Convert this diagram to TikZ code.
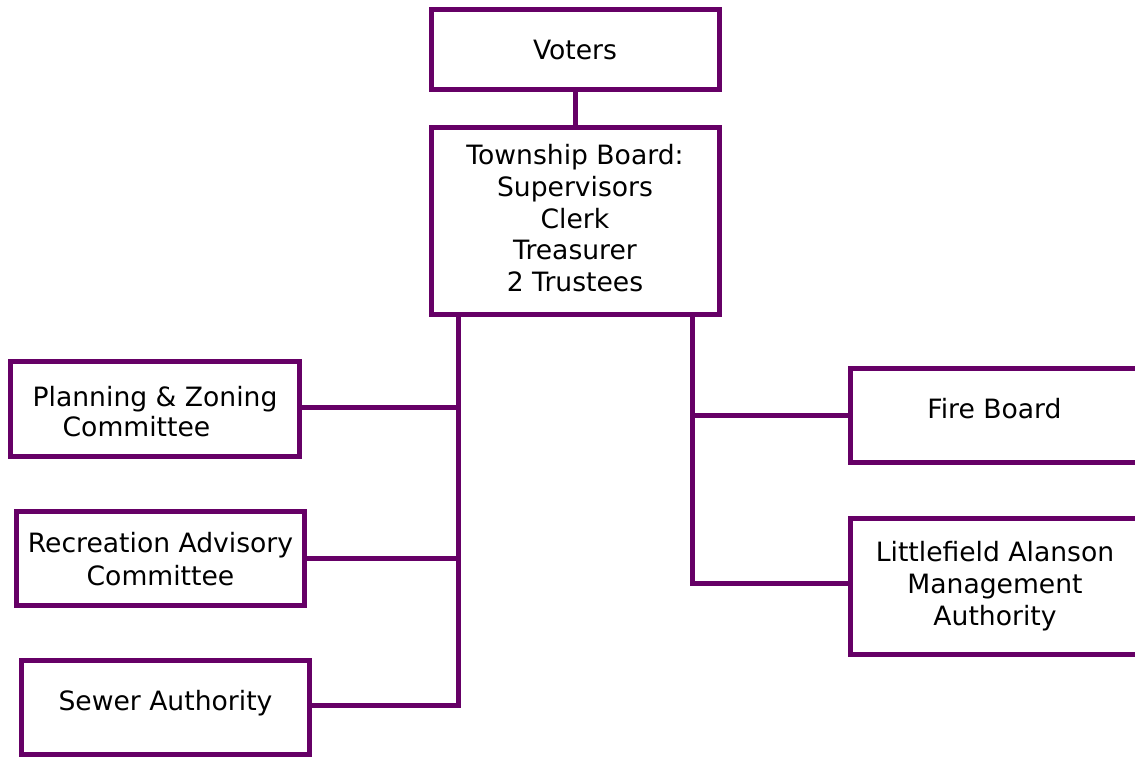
\documentclass[tikz,border=0pt]{standalone}
\usepackage{fontspec}
\setmainfont{DejaVu Sans}
\definecolor{plum}{RGB}{102,0,102}
\begin{document}
\begin{tikzpicture}[x=1pt,y=-1pt,
  box/.style={draw=plum,line width=5pt,rectangle,inner sep=0pt,outer sep=0pt,fill=white},
  conn/.style={draw=plum,line width=5pt},
  lbl/.style={font=\fontsize{26.6}{31.8}\selectfont,align=center,anchor=base,inner sep=0pt,text=black}]
\useasboundingbox (0,0) rectangle (1135,757);
\clip (0,0) rectangle (1135,757);
\fill[white] (0,0) rectangle (1135,757);
% boxes
\node[box,minimum width=288pt,minimum height=80.5pt] (voters) at (575,49.75) {};
\node[box,minimum width=288pt,minimum height=186pt] (township) at (575,221) {};
\node[box,minimum width=289pt,minimum height=95pt] (pz) at (155,409) {};
\node[box,minimum width=288pt,minimum height=94pt] (rec) at (160.5,558.5) {};
\node[box,minimum width=288pt,minimum height=93.5pt] (sewer) at (165.5,707.25) {};
\node[box,minimum width=289.5pt,minimum height=94pt] (fire) at (995.25,415.5) {};
\node[box,minimum width=289.5pt,minimum height=136pt] (lama) at (995.25,586.5) {};
% connectors
\coordinate (lb) at (458,314);
\coordinate (rb) at (692,314);
\draw[conn] (voters.south) -- (township.north);
\draw[conn] (lb) |- ([yshift=2pt]sewer.east);
\draw[conn] ([yshift=2pt]pz.east) -- ([yshift=2pt]pz.east -| lb);
\draw[conn] (rec.east) -- (rec.east -| lb);
\draw[conn] (rb) |- ([yshift=3.5pt]lama.west);
\draw[conn] (fire.west) -- (fire.west -| rb);
% labels (anchor base = baseline of the last line)
\node[lbl] (tv) at (575,60) {Voters};
\node[lbl] (tt) at (575,291.7) {Township Board:\\Supervisors\\Clerk\\Treasurer\\2 Trustees};
\node[lbl,font=\fontsize{26.6}{29.5}\selectfont] (tpz) at (155,436) {Planning \& Zoning\\Committee\hspace*{37pt}};
\node[lbl,font=\fontsize{26.6}{32.7}\selectfont] (trec) at (160.5,585) {Recreation Advisory\\Committee};
\node[lbl] (tsew) at (165.5,710.7) {Sewer Authority};
\node[lbl] (tfire) at (994.5,418.3) {Fire Board};
\node[lbl] (tlama) at (995,625) {Littlefield Alanson\\Management\\Authority};
\end{tikzpicture}
\end{document}
